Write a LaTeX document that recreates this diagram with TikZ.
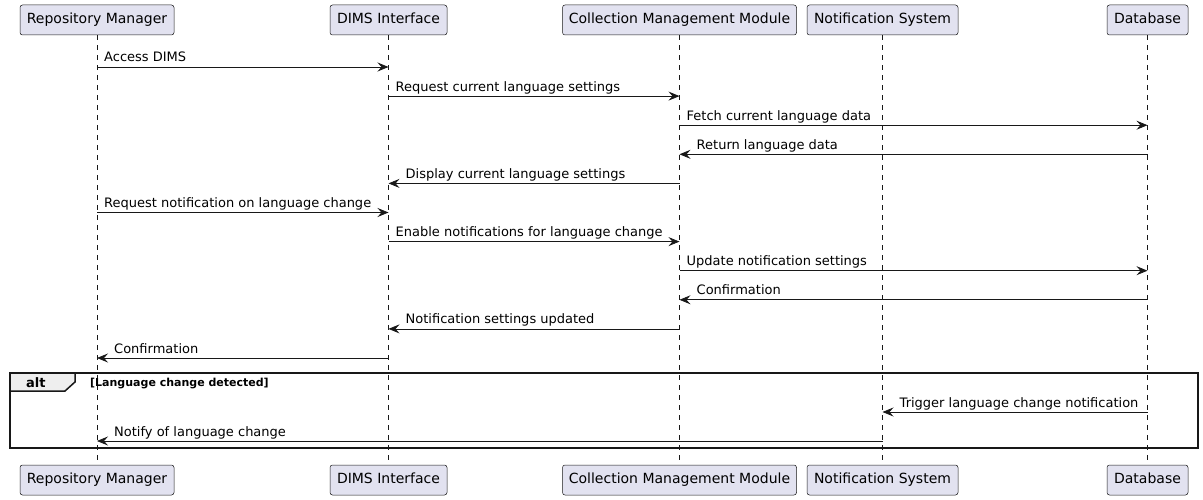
\documentclass[tikz,border=0pt]{standalone}
\usepackage{fontspec}
\setmainfont{DejaVu Sans}
\usetikzlibrary{arrows.meta}
\definecolor{pfill}{HTML}{E2E2F0}
\definecolor{ln}{HTML}{181818}
\definecolor{tabfill}{HTML}{EEEEEE}
\begin{document}
\begin{tikzpicture}[x=1pt,y=-1pt,
  part/.style={draw=ln, fill=pfill, rounded corners=2.5pt, minimum height=30pt, inner sep=0pt, text height=10.5pt, text depth=3pt, line width=0.5pt, font=\fontsize{14}{16}\selectfont},
  life/.style={draw=ln, line width=0.5pt, dash pattern=on 5pt off 5pt},
  msg/.style={draw=ln, line width=0.8pt, -{Stealth[length=11pt,width=9pt,inset=4pt]}},
  lbl/.style={font=\fontsize{13}{15}\selectfont, inner sep=0pt, anchor=base west, text=black},
  frame/.style={draw=ln, line width=1.5pt},
  guard/.style={font=\bfseries\fontsize{11}{13}\selectfont, inner sep=0pt, anchor=base west}]
\useasboundingbox (0,0) rectangle (1203,500);
% participants (top)
\node[part, minimum width=154pt] (rm)  at (97,20) {Repository Manager};
\node[part, minimum width=117pt] (di)  at (388.5,20) {DIMS Interface};
\node[part, minimum width=234pt] (cm)  at (679.5,20) {Collection Management Module};
\node[part, minimum width=151pt] (ns)  at (882.5,20) {Notification System};
\node[part, minimum width=81pt]  (db)  at (1147.5,20) {Database};
% participants (bottom)
\node[part, minimum width=154pt] (rmb) at (97,480) {Repository Manager};
\node[part, minimum width=117pt] (dib) at (388.5,480) {DIMS Interface};
\node[part, minimum width=234pt] (cmb) at (679.5,480) {Collection Management Module};
\node[part, minimum width=151pt] (nsb) at (882.5,480) {Notification System};
\node[part, minimum width=81pt]  (dbb) at (1147.5,480) {Database};
% lifelines
\foreach \a/\b in {rm/rmb, di/dib, cm/cmb, ns/nsb, db/dbb}
  \draw[life] (\a.south) -- (\b.north);
% message rows
\coordinate (y1) at (0,67);
\coordinate (y2) at (0,96.1);
\coordinate (y3) at (0,125.2);
\coordinate (y4) at (0,154.3);
\coordinate (y5) at (0,183.4);
\coordinate (y6) at (0,212.5);
\coordinate (y7) at (0,241.6);
\coordinate (y8) at (0,270.7);
\coordinate (y9) at (0,299.8);
\coordinate (y10) at (0,328.9);
\coordinate (y11) at (0,358);
\coordinate (y12) at (0,412);
\coordinate (y13) at (0,441);
% alt frame
\coordinate (fr1) at (10,373);
\coordinate (fr2) at (1198,448);
\draw[frame, fill=tabfill] (10,373) -- (75,373) -- (75,382) -- (65,391) -- (10,391) -- cycle;
\draw[frame] (fr1) rectangle (fr2);
\node[font=\bfseries\fontsize{13}{15}\selectfont, inner sep=0pt, anchor=base west] (altl) at (26,387) {alt};
\node[guard] (grd) at (90,386) {[Language change detected]};
% messages
\draw[msg] (rm |- y1) -- (di |- y1);
\node[lbl] (l1) at ([xshift=7pt,yshift=5pt]rm |- y1) {Access DIMS};
\draw[msg] (di |- y2) -- (cm |- y2);
\node[lbl] (l2) at ([xshift=7pt,yshift=5pt]di |- y2) {Request current language settings};
\draw[msg] (cm |- y3) -- (db |- y3);
\node[lbl] (l3) at ([xshift=7pt,yshift=5pt]cm |- y3) {Fetch current language data};
\draw[msg] (db |- y4) -- (cm |- y4);
\node[lbl] (l4) at ([xshift=17pt,yshift=5pt]cm |- y4) {Return language data};
\draw[msg] (cm |- y5) -- (di |- y5);
\node[lbl] (l5) at ([xshift=17pt,yshift=5pt]di |- y5) {Display current language settings};
\draw[msg] (rm |- y6) -- (di |- y6);
\node[lbl] (l6) at ([xshift=7pt,yshift=5pt]rm |- y6) {Request notification on language change};
\draw[msg] (di |- y7) -- (cm |- y7);
\node[lbl] (l7) at ([xshift=7pt,yshift=5pt]di |- y7) {Enable notifications for language change};
\draw[msg] (cm |- y8) -- (db |- y8);
\node[lbl] (l8) at ([xshift=7pt,yshift=5pt]cm |- y8) {Update notification settings};
\draw[msg] (db |- y9) -- (cm |- y9);
\node[lbl] (l9) at ([xshift=17pt,yshift=5pt]cm |- y9) {Confirmation};
\draw[msg] (cm |- y10) -- (di |- y10);
\node[lbl] (l10) at ([xshift=17pt,yshift=5pt]di |- y10) {Notification settings updated};
\draw[msg] (di |- y11) -- (rm |- y11);
\node[lbl] (l11) at ([xshift=17pt,yshift=5pt]rm |- y11) {Confirmation};
\draw[msg] (db |- y12) -- (ns |- y12);
\node[lbl] (l12) at ([xshift=17pt,yshift=5pt]ns |- y12) {Trigger language change notification};
\draw[msg] (ns |- y13) -- (rm |- y13);
\node[lbl] (l13) at ([xshift=17pt,yshift=5pt]rm |- y13) {Notify of language change};
\end{tikzpicture}
\end{document}
